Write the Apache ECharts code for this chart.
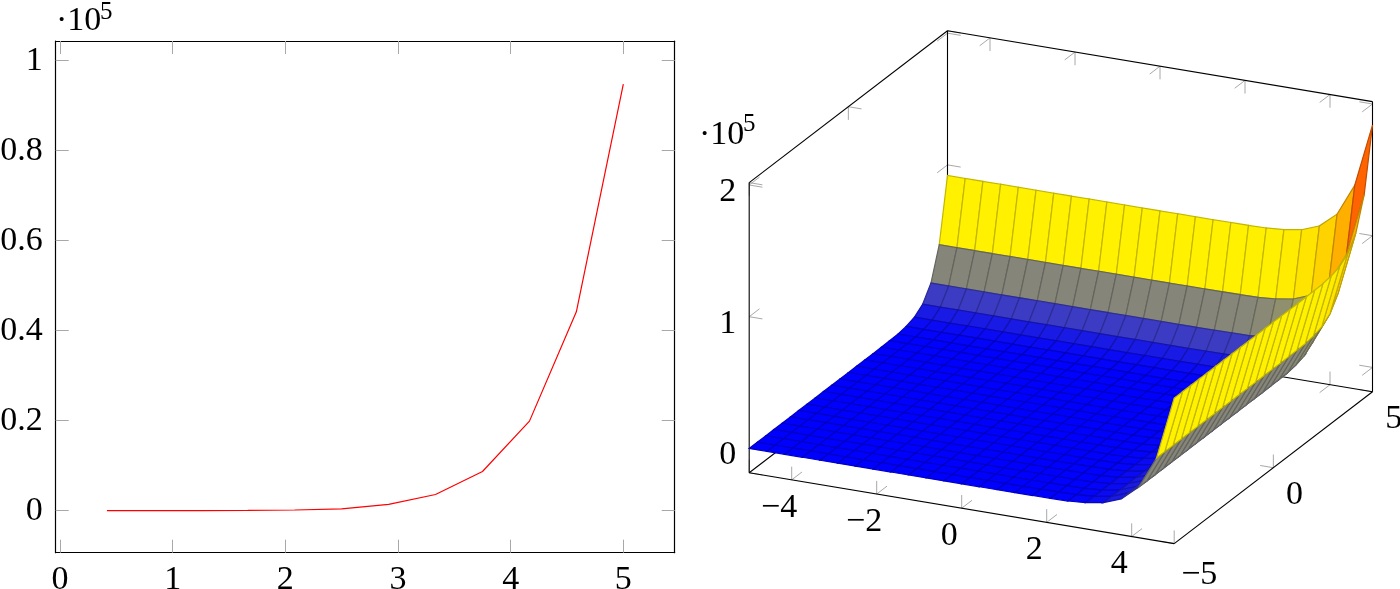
<!DOCTYPE html>
<html>
<head>
<meta charset="utf-8">
<script src="https://cdn.jsdelivr.net/npm/echarts@6/dist/echarts.min.js"></script>
<style>
  body { margin: 0; background: #fff; }
  #main { width: 1400px; height: 589px; }
</style>
</head>
<body>
<div id="main"></div>
<script>
// left plot
const lineX = [0.417, 0.833, 1.25, 1.667, 2.083, 2.5, 2.917, 3.333, 3.75, 4.167, 4.583, 5]
const lineY = [3, 8, 20, 50, 150, 400, 1400, 3600, 8700, 19900, 44200, 94800]
const lineXTicks = [0, 1, 2, 3, 4, 5]
const lineYTicks = [0, 20000, 40000, 60000, 80000, 100000]

// right plot, z in hundreds, rows run along y (-5 to 5), columns along x (-5 to 5), 25 samples each
const surfaceZ = [
  [0,0,0,0,0,0,0,0,0,0,0,0,0,0,0,0,1,2,4,14,36,87,199,442,920],
  [0,0,0,0,0,0,0,0,0,0,0,0,0,0,0,0,1,2,4,14,36,87,199,442,920],
  [0,0,0,0,0,0,0,0,0,0,0,0,0,0,0,0,1,2,4,14,36,87,199,442,920],
  [0,0,0,0,0,0,0,0,0,0,0,0,0,0,0,0,1,2,4,14,36,87,199,442,920],
  [0,0,0,0,0,0,0,0,0,0,0,0,0,0,0,0,1,2,4,14,36,87,199,442,920],
  [0,0,0,0,0,0,0,0,0,0,0,0,0,0,0,0,1,2,4,14,36,87,199,442,920],
  [0,0,0,0,0,0,0,0,0,0,0,0,0,0,0,0,1,2,4,14,36,87,199,442,920],
  [0,0,0,0,0,0,0,0,0,0,0,0,0,0,0,0,1,2,4,14,36,87,199,442,920],
  [0,0,0,0,0,0,0,0,0,0,0,0,0,0,0,0,1,2,4,14,36,87,199,442,920],
  [0,0,0,0,0,0,0,0,0,0,0,0,0,0,0,0,1,2,4,14,36,87,199,442,920],
  [0,0,0,0,0,0,0,0,0,0,0,0,0,0,0,0,1,2,4,14,36,87,199,442,920],
  [0,0,0,0,0,0,0,0,0,0,0,0,0,0,0,0,1,2,4,14,36,87,199,442,920],
  [0,0,0,0,0,0,0,0,0,0,0,0,0,0,0,0,1,2,4,14,36,87,199,442,920],
  [0,0,0,0,0,0,0,0,0,0,0,0,0,0,0,0,1,2,4,14,36,87,199,442,920],
  [0,0,0,0,0,0,0,0,0,0,0,0,0,0,0,0,1,2,4,14,36,87,199,442,920],
  [0,0,0,0,0,0,0,0,0,0,0,0,0,0,0,0,1,2,4,14,36,87,199,442,920],
  [1,1,1,1,1,1,1,1,1,1,1,1,1,1,1,1,2,3,5,15,37,88,200,443,921],
  [2,2,2,2,2,2,2,2,2,2,2,2,2,2,2,2,3,4,6,16,38,89,201,444,922],
  [4,4,4,4,4,4,4,4,4,4,4,4,4,4,4,4,5,6,8,18,40,91,203,446,924],
  [14,14,14,14,14,14,14,14,14,14,14,14,14,14,14,14,15,16,18,28,50,101,213,456,934],
  [36,36,36,36,36,36,36,36,36,36,36,36,36,36,36,36,37,38,40,50,72,123,235,478,956],
  [87,87,87,87,87,87,87,87,87,87,87,87,87,87,87,87,88,89,91,101,123,174,286,529,1007],
  [199,199,199,199,199,199,199,199,199,199,199,199,199,199,199,199,200,201,203,213,235,286,398,641,1119],
  [442,442,442,442,442,442,442,442,442,442,442,442,442,442,442,442,443,444,446,456,478,529,641,884,1362],
  [920,920,920,920,920,920,920,920,920,920,920,920,920,920,920,920,921,922,924,934,956,1007,1119,1362,1840]
]
const xTicks3d = [-4, -2, 0, 2, 4]
const yTicks3d = [-5, 0, 5]
const zTicks3d = [0, 100000, 200000]
const hotColors = [[0, 0, 255], [255, 255, 0], [255, 128, 0], [255, 0, 0]]

const FONT = '"Liberation Serif", serif'
const TICK_COLOR = '#a8a8a8'
const zMin = -18500
const zMax = 201800
const metaMax = 1840

// axonometric view of the box: x, y, z go to plain u, v on a hidden value grid
function project (x, y, z) {
  return [42.5 * x + 19.83 * y, -7.08 * x + 15.18 * y + 131.7 * z / 100000]
}

function hotColor (t) {
  const pos = Math.min(t * 3, 2.999)
  const k = Math.floor(pos)
  const f = pos - k
  return hotColors[k].map((c, n) => c + (hotColors[k + 1][n] - c) * f)
}

function rgb (c, scale) {
  return 'rgb(' + c.map(v => Math.round(v * scale)).join(',') + ')'
}

// box edges that pgfplots draws
const boxEdges = [
  [[-5, -5, zMin], [-5, -5, zMax]],
  [[-5, 5, zMin], [-5, 5, zMax]],
  [[5, 5, zMin], [5, 5, zMax]],
  [[-5, -5, zMax], [-5, 5, zMax]],
  [[-5, 5, zMax], [5, 5, zMax]],
  [[-5, 5, zMin], [-5, -5, zMin]],
  [[-5, 5, zMin], [5, 5, zMin]],
  [[-5, -5, zMin], [5, -5, zMin]],
  [[5, -5, zMin], [5, 5, zMin]]
]

// each 3d tick is two short strokes running along the box walls
const LX = 0.31
const LY = 0.52
const LZ = 10000
const tickStrokes = []
function addTick (p, d1, d2) {
  tickStrokes.push([p, [p[0] + d1[0], p[1] + d1[1], p[2] + d1[2]]])
  tickStrokes.push([p, [p[0] + d2[0], p[1] + d2[1], p[2] + d2[2]]])
}
xTicks3d.forEach(x => {
  addTick([x, -5, zMin], [0, LY, 0], [0, 0, LZ])
  addTick([x, 5, zMin], [0, -LY, 0], [0, 0, LZ])
  addTick([x, 5, zMax], [0, -LY, 0], [0, 0, -LZ])
})
yTicks3d.forEach(y => {
  addTick([5, y, zMin], [-LX, 0, 0], [0, 0, LZ])
  addTick([-5, y, zMin], [LX, 0, 0], [0, 0, LZ])
  addTick([-5, y, zMax], [LX, 0, 0], [0, 0, -LZ])
})
zTicks3d.forEach(z => {
  addTick([-5, -5, z], [LX, 0, 0], [0, LY, 0])
  addTick([-5, 5, z], [LX, 0, 0], [0, -LY, 0])
  addTick([5, 5, z], [-LX, 0, 0], [0, -LY, 0])
})

// surface cells, far corner first so the near ones paint over
const cells = []
for (let j = surfaceZ.length - 2; j >= 0; j--) {
  for (let i = 0; i < surfaceZ[j].length - 1; i++) {
    cells.push([i, j])
  }
}

const labels3d = []
xTicks3d.forEach(x => {
  labels3d.push({ text: String(x).replace('-', '\u2212'), p: [x, -5, zMin], dx: -12.5, dy: 28, align: 'center' })
})
yTicks3d.forEach(y => {
  labels3d.push({ text: String(y).replace('-', '\u2212'), p: [5, y, zMin], dx: y < 0 ? 7 : 12.7, dy: y < 0 ? 31 : 27, align: 'left' })
})
zTicks3d.forEach(z => {
  labels3d.push({ text: String(z / 100000), p: [-5, -5, z], dx: -13, dy: 7, align: 'right' })
})

function toPixel (api, p) {
  return api.coord(project(p[0], p[1], p[2]))
}

function indexData (list) {
  return list.map((item, n) => [n])
}

function renderEdge (list, color, width) {
  return function (params, api) {
    const a = toPixel(api, list[params.dataIndex][0])
    const b = toPixel(api, list[params.dataIndex][1])
    return {
      type: 'line',
      shape: { x1: a[0], y1: a[1], x2: b[0], y2: b[1] },
      style: { stroke: color, lineWidth: width, fill: null }
    }
  }
}

function renderCell (params, api) {
  const i = api.value(0)
  const j = api.value(1)
  const corners = [[i, j], [i + 1, j], [i + 1, j + 1], [i, j + 1]]
  let sum = 0
  const points = corners.map(c => {
    const z = surfaceZ[c[1]][c[0]]
    sum += z
    return toPixel(api, [-5 + 10 * c[0] / 24, -5 + 10 * c[1] / 24, z * 100])
  })
  const color = hotColor(sum / 4 / metaMax)
  return {
    type: 'polygon',
    shape: { points },
    style: { fill: rgb(color, 1), stroke: rgb(color, 0.76), lineWidth: 1.2 }
  }
}

function renderLabel (params, api) {
  const item = labels3d[params.dataIndex]
  const pos = toPixel(api, item.p)
  return {
    type: 'text',
    x: pos[0] + item.dx,
    y: pos[1] + item.dy,
    style: {
      text: item.text,
      fontSize: 34,
      fontFamily: FONT,
      fill: '#000',
      align: item.align,
      verticalAlign: 'middle'
    }
  }
}

const uMax = project(5, 5, 0)[0]
const vMax = project(-5, 5, zMax)[1]
const vMin = project(5, -5, zMin)[1]

function lineAxisBase () {
  return {
    type: 'value',
    axisLine: { show: true, onZero: false, lineStyle: { color: '#000', width: 1.2 } },
    splitLine: { show: false }
  }
}

const option = {
  animation: false,
  backgroundColor: '#fff',
  grid: [
    { left: 55.7, top: 41, width: 619, height: 511.7, outerBoundsMode: 'none' },
    { left: 749.2, top: 30.8, width: 623.3, height: 512.8, outerBoundsMode: 'none' }
  ],
  xAxis: [
    Object.assign(lineAxisBase(), {
      gridIndex: 0,
      position: 'bottom',
      min: -0.038,
      max: 5.456,
      axisTick: { inside: true, length: 13, customValues: lineXTicks, lineStyle: { color: TICK_COLOR, width: 1 } },
      axisLabel: { customValues: lineXTicks, margin: 10, fontSize: 34, fontFamily: FONT, color: '#000' }
    }),
    Object.assign(lineAxisBase(), {
      gridIndex: 0,
      position: 'top',
      min: -0.038,
      max: 5.456,
      axisTick: { inside: true, length: 13, customValues: lineXTicks, lineStyle: { color: TICK_COLOR, width: 1 } },
      axisLabel: { show: false }
    }),
    { type: 'value', gridIndex: 1, show: false, min: -uMax, max: uMax }
  ],
  yAxis: [
    Object.assign(lineAxisBase(), {
      gridIndex: 0,
      position: 'left',
      min: -9340,
      max: 104370,
      axisTick: { inside: true, length: 13, customValues: lineYTicks, lineStyle: { color: TICK_COLOR, width: 1 } },
      axisLabel: {
        customValues: lineYTicks,
        margin: 13,
        fontSize: 34,
        fontFamily: FONT,
        color: '#000',
        padding: [3, 0, 0, 0],
        formatter: v => String(v / 100000)
      }
    }),
    Object.assign(lineAxisBase(), {
      gridIndex: 0,
      position: 'right',
      min: -9340,
      max: 104370,
      axisTick: { inside: true, length: 13, customValues: lineYTicks, lineStyle: { color: TICK_COLOR, width: 1 } },
      axisLabel: { show: false }
    }),
    { type: 'value', gridIndex: 1, show: false, min: vMin, max: vMax }
  ],
  graphic: [
    { type: 'text', x: 56, y: 4, style: { text: '\u00b710', fontSize: 34, fontFamily: FONT, fill: '#000' } },
    { type: 'text', x: 100, y: 0, style: { text: '5', fontSize: 25, fontFamily: FONT, fill: '#000' } },
    { type: 'text', x: 699, y: 118, style: { text: '\u00b710', fontSize: 34, fontFamily: FONT, fill: '#000' } },
    { type: 'text', x: 743, y: 112, style: { text: '5', fontSize: 25, fontFamily: FONT, fill: '#000' } }
  ],
  series: [
    {
      type: 'line',
      xAxisIndex: 0,
      yAxisIndex: 0,
      data: lineX.map((x, n) => [x, lineY[n]]),
      symbol: 'none',
      lineStyle: { color: '#ff0000', width: 1.2 }
    },
    {
      type: 'custom',
      xAxisIndex: 2,
      yAxisIndex: 2,
      data: indexData(tickStrokes),
      renderItem: renderEdge(tickStrokes, TICK_COLOR, 1),
      silent: true
    },
    {
      type: 'custom',
      xAxisIndex: 2,
      yAxisIndex: 2,
      data: indexData(boxEdges),
      renderItem: renderEdge(boxEdges, '#000', 1.1),
      silent: true
    },
    {
      type: 'custom',
      xAxisIndex: 2,
      yAxisIndex: 2,
      data: cells,
      renderItem: renderCell,
      silent: true
    },
    {
      type: 'custom',
      xAxisIndex: 2,
      yAxisIndex: 2,
      data: indexData(labels3d),
      renderItem: renderLabel,
      silent: true
    }
  ]
}

const chart = echarts.init(document.getElementById('main'), null, { renderer: 'canvas' })
chart.setOption(option)
</script>
</body>
</html>
